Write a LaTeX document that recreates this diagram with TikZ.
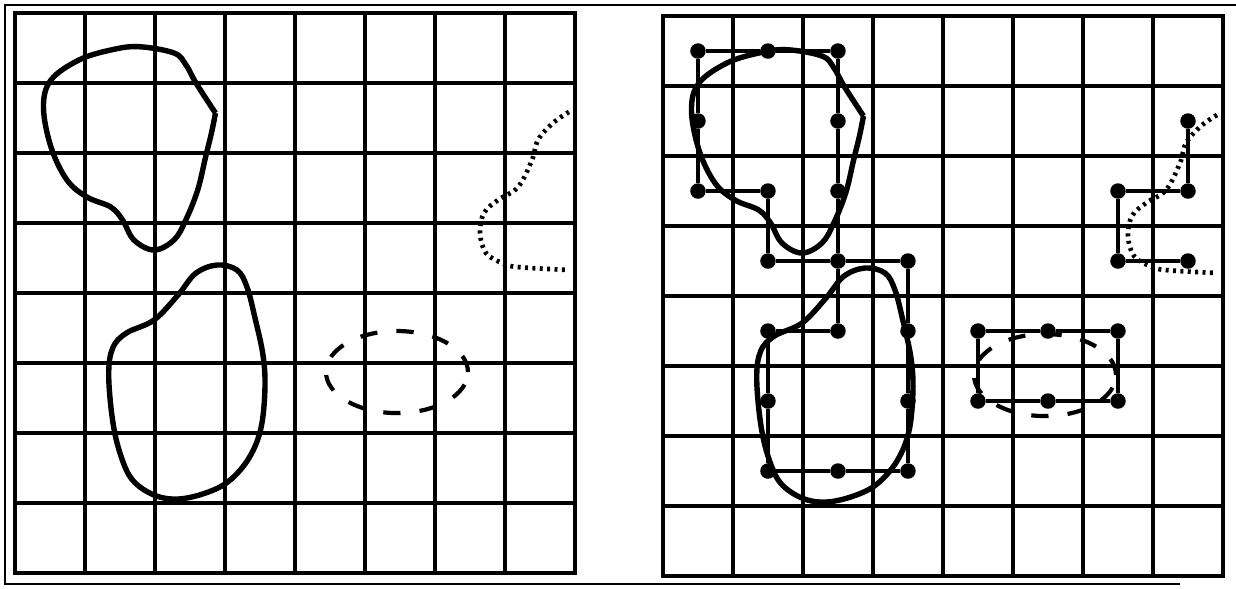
\documentclass[tikz,border=0pt]{standalone}
\usepackage{tikz}
\usetikzlibrary{positioning}
\tikzset{
	gridline/.style={
			line width=1.45pt,
			black
		},
	gridframe/.style={
			line width=1.9pt,
			black
		},
	outerframe/.style={
			line width=0.6pt,
			black
		},
	blobline/.style={
			line width=2.2pt,
			black,
			line join=round
		},
	dashline/.style={
			line width=1.7pt,
			black,
			dash pattern=on 7pt off 7.8pt
		},
	dotline/.style={
			line width=1.9pt,
			black,
			dash pattern=on 1.2pt off 1.8pt
		},
	linkline/.style={
			line width=1.7pt,
			black
		},
	dotnode/.style={
			circle,
			fill=black,
			minimum size=6.3pt,
			inner sep=0pt
		}
}

\begin{document}
\begin{tikzpicture}
\useasboundingbox (-0.214,-0.214) rectangle (17.443,8.186);
\draw[outerframe] (17.443,8.114) -- (-0.143,8.114) -- (-0.143,-0.157) -- (16.643,-0.157);

% the same field twice: left plain, right with cell outlines
\foreach \gx/\gy in {0/0, 9.257/-0.043} {
\begin{scope}[shift={(\gx,\gy)}]
\draw[gridline] (0,0) grid (8,8);
\draw[gridframe] (0,0) rectangle (8,8);

\draw[blobline] plot[smooth, tension=0.6] coordinates {
  (2.864,6.571) (2.807,6.286) (2.723,5.943) (2.610,5.471) (2.44,5.043)
  (2.271,4.757) (1.986,4.614) (1.7,4.757) (1.537,5.043) (1.367,5.229)
  (1.029,5.371) (0.743,5.614) (0.514,6.086) (0.407,6.657) (0.514,7.043)
  (0.914,7.329) (1.367,7.471) (1.763,7.519) (2.271,7.429) (2.443,7.257)
  (2.586,7.0) (2.864,6.571)};

\draw[blobline] plot[smooth cycle, tension=0.6] coordinates {
  (2.886,4.4) (3.171,4.329) (3.314,4.086) (3.429,3.643) (3.543,3.114)
  (3.571,2.643) (3.514,2.071) (3.343,1.643) (3.057,1.314) (2.723,1.143)
  (2.329,1.057) (1.986,1.114) (1.679,1.329) (1.509,1.686) (1.396,2.171)
  (1.339,2.829) (1.396,3.214) (1.593,3.429) (1.986,3.614) (2.329,3.971)
  (2.58,4.28)};

\draw[dashline] (5.457,2.871) ellipse [x radius=1.014, y radius=0.586];

\draw[dotline] plot[smooth, tension=0.6] coordinates {
  (7.914,6.586) (7.686,6.429) (7.471,6.186) (7.386,5.9) (7.186,5.514)
  (6.9,5.329) (6.7,5.143) (6.643,4.857) (6.729,4.571) (6.957,4.429)
  (7.186,4.371) (7.914,4.329)};
\end{scope}
}

% cell centres (column, row from top)
\begin{scope}[shift={(9.257,-0.043)}]
\foreach \c/\r in {0/0, 1/0, 2/0, 0/1, 2/1, 0/2, 1/2, 2/2,
                   1/3, 2/3, 3/3, 1/4, 2/4, 3/4, 1/5, 3/5, 1/6, 2/6, 3/6,
                   7/1, 6/2, 7/2, 6/3, 7/3,
                   4/4, 5/4, 6/4, 4/5, 5/5, 6/5}
  \node[dotnode] (p\c\r) at (\c+0.5, 7.5-\r) {};

\draw[linkline] (p00) -- (p10) -- (p20) -- (p21) -- (p22) -- (p23)
  -- (p13) -- (p12) -- (p02) -- (p01) -- (p00);
\draw[linkline] (p23) -- (p33) -- (p34) -- (p35) -- (p36) -- (p26)
  -- (p16) -- (p15) -- (p14) -- (p24) -- (p23);
\draw[linkline] (p71) -- (p72) -- (p62) -- (p63) -- (p73);
\draw[linkline] (p44) -- (p54) -- (p64) -- (p65) -- (p55) -- (p45) -- (p44);
\end{scope}

\end{tikzpicture}
\end{document}
